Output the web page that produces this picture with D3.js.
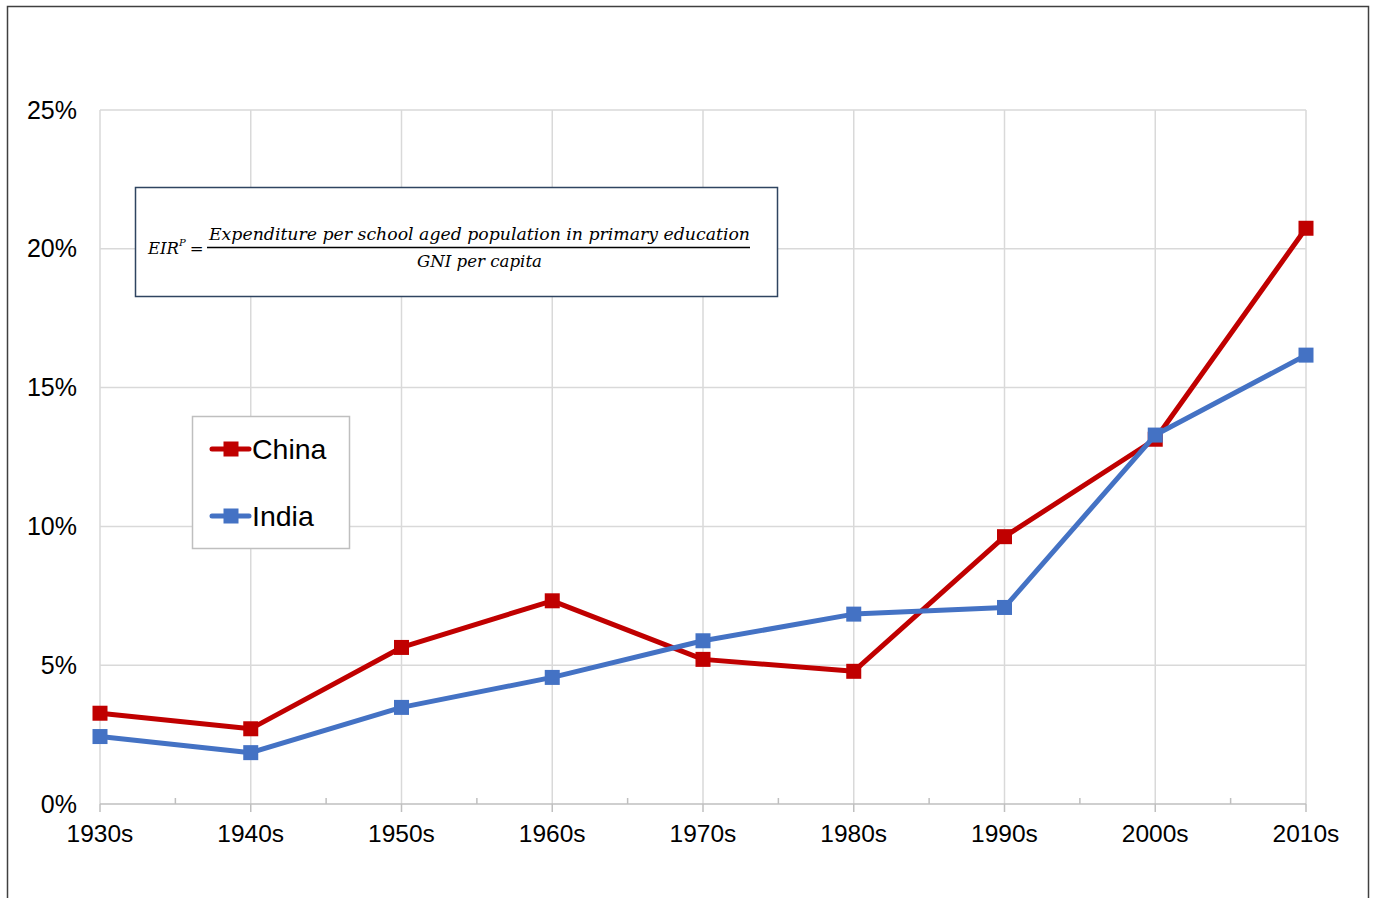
<!DOCTYPE html>
<html lang="en">
<head>
  <meta charset="UTF-8">
  <title>EIR primary education - China vs India</title>
  <script src="https://d3js.org/d3.v7.min.js"></script>
  <style>
    body { margin: 0; background: #fff; }
    svg text { font-family: "Liberation Sans", Arial, sans-serif; fill: #000; }
    svg text.math { font-family: "DejaVu Serif", "Liberation Serif", serif; font-style: italic; }
  </style>
</head>
<body>
  <div id="chart"></div>
  <script>
    // data
    const decades = ["1930s", "1940s", "1950s", "1960s", "1970s", "1980s", "1990s", "2000s", "2010s"];
    const china = [3.27, 2.71, 5.64, 7.32, 5.21, 4.78, 9.63, 13.14, 20.74];
    const india = [2.43, 1.85, 3.48, 4.56, 5.88, 6.84, 7.08, 13.29, 16.17];
    const yTicks = [0, 5, 10, 15, 20, 25];
    const seriesNames = ["China", "India"];
    const seriesColors = ["#c00000", "#4472c4"];

    const width = 1373, height = 898;
    const plotLeft = 100, plotRight = 1306, plotTop = 110, plotBottom = 804;

    const svg = d3.select("#chart").append("svg")
      .attr("width", width)
      .attr("height", height);

    // outer frame
    svg.append("rect")
      .attr("x", 7.5).attr("y", 6.5)
      .attr("width", 1361).attr("height", 900)
      .attr("fill", "#fff")
      .attr("stroke", "#404040")
      .attr("stroke-width", 1.5);

    const x = d3.scalePoint().domain(decades).range([plotLeft, plotRight]);
    const y = d3.scaleLinear().domain([0, 25]).range([plotBottom, plotTop]);

    // gridlines
    svg.append("g").selectAll("line")
      .data(yTicks.filter(d => d > 0))
      .join("line")
      .attr("x1", plotLeft).attr("x2", plotRight)
      .attr("y1", d => y(d)).attr("y2", d => y(d))
      .attr("stroke", "#d9d9d9").attr("stroke-width", 1.5);

    svg.append("g").selectAll("line")
      .data(decades)
      .join("line")
      .attr("x1", d => x(d)).attr("x2", d => x(d))
      .attr("y1", plotTop).attr("y2", plotBottom)
      .attr("stroke", "#d9d9d9").attr("stroke-width", 1.5);

    // x axis
    const xAxis = svg.append("g");
    xAxis.append("line")
      .attr("x1", plotLeft).attr("x2", plotRight)
      .attr("y1", plotBottom).attr("y2", plotBottom)
      .attr("stroke", "#bfbfbf").attr("stroke-width", 1.5);
    xAxis.selectAll(".major")
      .data(decades)
      .join("line")
      .attr("class", "major")
      .attr("x1", d => x(d)).attr("x2", d => x(d))
      .attr("y1", plotBottom).attr("y2", plotBottom + 8)
      .attr("stroke", "#bfbfbf").attr("stroke-width", 1.5);
    xAxis.selectAll(".minor")
      .data(decades.slice(1))
      .join("line")
      .attr("class", "minor")
      .attr("x1", (d, i) => (x(d) + x(decades[i])) / 2)
      .attr("x2", (d, i) => (x(d) + x(decades[i])) / 2)
      .attr("y1", plotBottom).attr("y2", plotBottom - 6)
      .attr("stroke", "#bfbfbf").attr("stroke-width", 1.5);
    xAxis.selectAll("text")
      .data(decades)
      .join("text")
      .attr("x", d => x(d))
      .attr("y", plotBottom + 38)
      .attr("text-anchor", "middle")
      .attr("font-size", 24.5)
      .text(d => d);

    // y labels
    svg.append("g").selectAll("text")
      .data(yTicks)
      .join("text")
      .attr("x", 77)
      .attr("y", d => y(d) + 8.5)
      .attr("text-anchor", "end")
      .attr("font-size", 25)
      .text(d => d + "%");

    // series
    const line = d3.line().x((d, i) => x(decades[i])).y(d => y(d));
    [china, india].forEach((vals, k) => {
      const g = svg.append("g");
      g.append("path")
        .attr("d", line(vals))
        .attr("fill", "none")
        .attr("stroke", seriesColors[k])
        .attr("stroke-width", 5)
        .attr("stroke-linejoin", "round");
      g.selectAll("rect")
        .data(vals)
        .join("rect")
        .attr("x", (d, i) => x(decades[i]) - 7.5)
        .attr("y", d => y(d) - 7.5)
        .attr("width", 15).attr("height", 15)
        .attr("fill", seriesColors[k]);
    });

    // legend
    const legend = svg.append("g");
    legend.append("rect")
      .attr("x", 192.5).attr("y", 416.5)
      .attr("width", 157).attr("height", 132)
      .attr("fill", "#fff")
      .attr("stroke", "#bfbfbf").attr("stroke-width", 1.5);
    seriesNames.forEach((name, k) => {
      const ly = 449 + k * 67;
      legend.append("line")
        .attr("x1", 212).attr("x2", 249)
        .attr("y1", ly).attr("y2", ly)
        .attr("stroke", seriesColors[k]).attr("stroke-width", 5)
        .attr("stroke-linecap", "round");
      legend.append("rect")
        .attr("x", 223.5).attr("y", ly - 7.5)
        .attr("width", 15).attr("height", 15)
        .attr("fill", seriesColors[k]);
      legend.append("text")
        .attr("x", 252).attr("y", ly + 10)
        .attr("font-size", 28.5)
        .text(name);
    });

    // formula box
    const box = svg.append("g");
    box.append("rect")
      .attr("x", 135.5).attr("y", 187.5)
      .attr("width", 642).attr("height", 109)
      .attr("fill", "#fff")
      .attr("stroke", "#2f4460").attr("stroke-width", 1.5);
    const lhs = box.append("text")
      .attr("class", "math")
      .attr("x", 148).attr("y", 254)
      .attr("font-size", 16.5);
    lhs.append("tspan").text("EIR");
    lhs.append("tspan").attr("dy", -8).attr("font-size", 10).text("P");
    lhs.append("tspan").attr("dy", 8).attr("dx", 4).style("font-style", "normal").text("=");
    box.append("line")
      .attr("x1", 207).attr("x2", 750)
      .attr("y1", 247.5).attr("y2", 247.5)
      .attr("stroke", "#000").attr("stroke-width", 1.5);
    box.append("text")
      .attr("class", "math")
      .attr("x", 209).attr("y", 240)
      .attr("font-size", 16)
      .attr("textLength", 541).attr("lengthAdjust", "spacingAndGlyphs")
      .text("Expenditure per school aged population in primary education");
    box.append("text")
      .attr("class", "math")
      .attr("x", 417).attr("y", 267)
      .attr("font-size", 16)
      .attr("textLength", 125).attr("lengthAdjust", "spacingAndGlyphs")
      .text("GNI per capita");
  </script>
</body>
</html>
